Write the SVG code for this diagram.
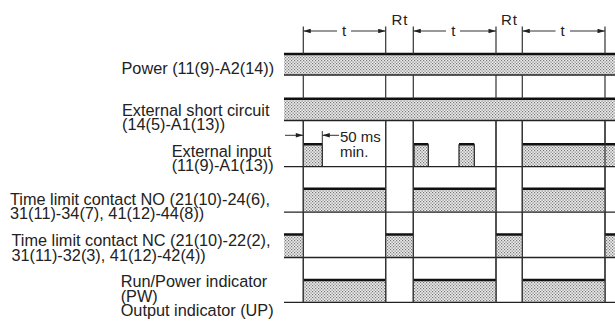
<svg xmlns="http://www.w3.org/2000/svg" width="615" height="325" viewBox="0 0 615 325">
<style>
.lbl{font-family:"Liberation Sans",Arial,sans-serif;font-size:16.3px;fill:#222}
.dim{font-family:"Liberation Sans",Arial,sans-serif;font-size:15px;fill:#222}
.sh{fill:url(#dots)}
.hi{stroke:#111;stroke-width:2.6;fill:none}
.base{stroke:#222;stroke-width:1.3;fill:none}
.edge{stroke:#222;stroke-width:1.2;fill:none}
.vl{stroke:#333;stroke-width:1.2;fill:none}
.ar{stroke:#333;stroke-width:1;fill:none}
</style>
<defs>
<pattern id="dots" width="3" height="3" patternUnits="userSpaceOnUse">
<rect width="3" height="3" fill="#ececec"/>
<rect x="0" y="0" width="1.2" height="1.2" fill="#777"/>
<rect x="1.5" y="1.5" width="1.2" height="1.2" fill="#777"/>
</pattern>
<marker id="ah" viewBox="0 0 10 6" refX="10" refY="3" markerWidth="9" markerHeight="4.5" markerUnits="userSpaceOnUse" orient="auto">
<path d="M0,0 L10,3 L0,6 Z" fill="#222"/>
</marker>
</defs>
<rect width="615" height="325" fill="#fff"/>

<g id="power">
<rect class="sh" x="284" y="54" width="331" height="21"/>
<line class="hi" x1="284" y1="54" x2="615" y2="54"/>
<line class="base" x1="284" y1="75" x2="615" y2="75"/>
<text class="lbl" x="121.5" y="74">Power (11(9)-A2(14))</text>
</g>

<g id="ext-short">
<rect class="sh" x="284" y="98.7" width="331" height="21.8"/>
<line class="hi" x1="284" y1="98.7" x2="615" y2="98.7"/>
<line class="base" x1="284" y1="120.5" x2="615" y2="120.5"/>
<text class="lbl" x="122" y="115.5">External short circuit</text>
<text class="lbl" x="122" y="129.8">(14(5)-A1(13))</text>
</g>

<g id="connectors">
<path class="vl" d="M303.3,26.5V54 M385.7,26.5V54 M413.3,26.5V54 M496,26.5V54 M522.3,26.5V54 M605,26.5V54"/>
<path class="vl" d="M303.3,75V98.7 M385.7,75V98.7 M413.3,75V98.7 M496,75V98.7 M522.3,75V98.7 M605,75V98.7"/>
<path class="vl" d="M303.3,120.5V302.5 M385.7,120.5V302.5 M413.3,120.5V302.5 M496,120.5V302.5 M522.3,120.5V302.5 M605,120.5V302.5"/>
<line class="ar" x1="337" y1="31" x2="303.3" y2="31" marker-end="url(#ah)"/>
<line class="ar" x1="351" y1="31" x2="385.7" y2="31" marker-end="url(#ah)"/>
<line class="ar" x1="446" y1="31" x2="413.3" y2="31" marker-end="url(#ah)"/>
<line class="ar" x1="460" y1="31" x2="496" y2="31" marker-end="url(#ah)"/>
<line class="ar" x1="555.5" y1="31" x2="522.3" y2="31" marker-end="url(#ah)"/>
<line class="ar" x1="570" y1="31" x2="605" y2="31" marker-end="url(#ah)"/>
<text class="dim" x="344" y="35.5" text-anchor="middle">t</text>
<text class="dim" x="453.3" y="35.5" text-anchor="middle">t</text>
<text class="dim" x="562.7" y="35.5" text-anchor="middle">t</text>
<text class="dim" x="400" y="24.5" text-anchor="middle" letter-spacing="1">Rt</text>
<text class="dim" x="509.5" y="24.5" text-anchor="middle" letter-spacing="1">Rt</text>
<line class="ar" x1="285" y1="135.3" x2="303.3" y2="135.3" marker-end="url(#ah)"/>
<line class="ar" x1="339" y1="135.3" x2="322.3" y2="135.3" marker-end="url(#ah)"/>
<line class="ar" x1="322.3" y1="131" x2="322.3" y2="144.3"/>
<text class="dim" x="340" y="141.7" font-size="15.5">50 ms</text>
<text class="dim" x="340" y="157.3" font-size="15.5">min.</text>
</g>

<g id="ext-input">
<rect class="sh" x="303.3" y="144.3" width="19" height="22.4"/>
<rect class="sh" x="414" y="144.3" width="14.3" height="22.4"/>
<rect class="sh" x="459" y="144.3" width="15.3" height="22.4"/>
<rect class="sh" x="522.3" y="144.3" width="92.7" height="22.4"/>
<path class="hi" d="M303.3,144.3H322.3 M414,144.3H428.3 M459,144.3H474.3 M522.3,144.3H615"/>
<path class="edge" d="M322.3,144.3V166.7 M414,144.3V166.7 M428.3,144.3V166.7 M459,144.3V166.7 M474.3,144.3V166.7"/>
<line class="base" x1="284" y1="166.7" x2="615" y2="166.7"/>
<text class="lbl" x="171.7" y="157">External input</text>
<text class="lbl" x="171.7" y="171">(11(9)-A1(13))</text>
</g>

<g id="no-contact">
<rect class="sh" x="303.3" y="188.7" width="82.4" height="23.5"/>
<rect class="sh" x="413.3" y="188.7" width="82.7" height="23.5"/>
<rect class="sh" x="522.3" y="188.7" width="82.7" height="23.5"/>
<path class="hi" d="M303.3,188.7H385.7 M413.3,188.7H496 M522.3,188.7H605"/>
<line class="base" x1="284" y1="212.2" x2="615" y2="212.2"/>
<text class="lbl" x="10" y="205">Time limit contact NO (21(10)-24(6),</text>
<text class="lbl" x="10" y="219">31(11)-34(7), 41(12)-44(8))</text>
</g>

<g id="nc-contact">
<rect class="sh" x="284" y="234.5" width="19.3" height="23"/>
<rect class="sh" x="385.7" y="234.5" width="27.6" height="23"/>
<rect class="sh" x="496" y="234.5" width="26.3" height="23"/>
<rect class="sh" x="605" y="234.5" width="10" height="23"/>
<path class="hi" d="M284,234.5H303.3 M385.7,234.5H413.3 M496,234.5H522.3 M605,234.5H615"/>
<line class="base" x1="284" y1="257.5" x2="615" y2="257.5"/>
<text class="lbl" x="11.5" y="246">Time limit contact NC (21(10)-22(2),</text>
<text class="lbl" x="11.5" y="260.5">31(11)-32(3), 41(12)-42(4))</text>
</g>

<g id="run-indicator">
<rect class="sh" x="303.3" y="280" width="82.4" height="22.3"/>
<rect class="sh" x="413.3" y="280" width="82.7" height="22.3"/>
<rect class="sh" x="522.3" y="280" width="82.7" height="22.3"/>
<path class="hi" d="M303.3,280H385.7 M413.3,280H496 M522.3,280H605"/>
<line class="base" x1="284" y1="302.3" x2="615" y2="302.3"/>
<text class="lbl" x="120.7" y="287">Run/Power indicator</text>
<text class="lbl" x="120.7" y="301.5">(PW)</text>
<text class="lbl" x="120.7" y="315.5">Output indicator (UP)</text>
</g>
<path class="vl" d="M303.3,120.5V302.5 M385.7,120.5V302.5 M413.3,120.5V302.5 M496,120.5V302.5 M522.3,120.5V302.5 M605,120.5V302.5"/>
</svg>
